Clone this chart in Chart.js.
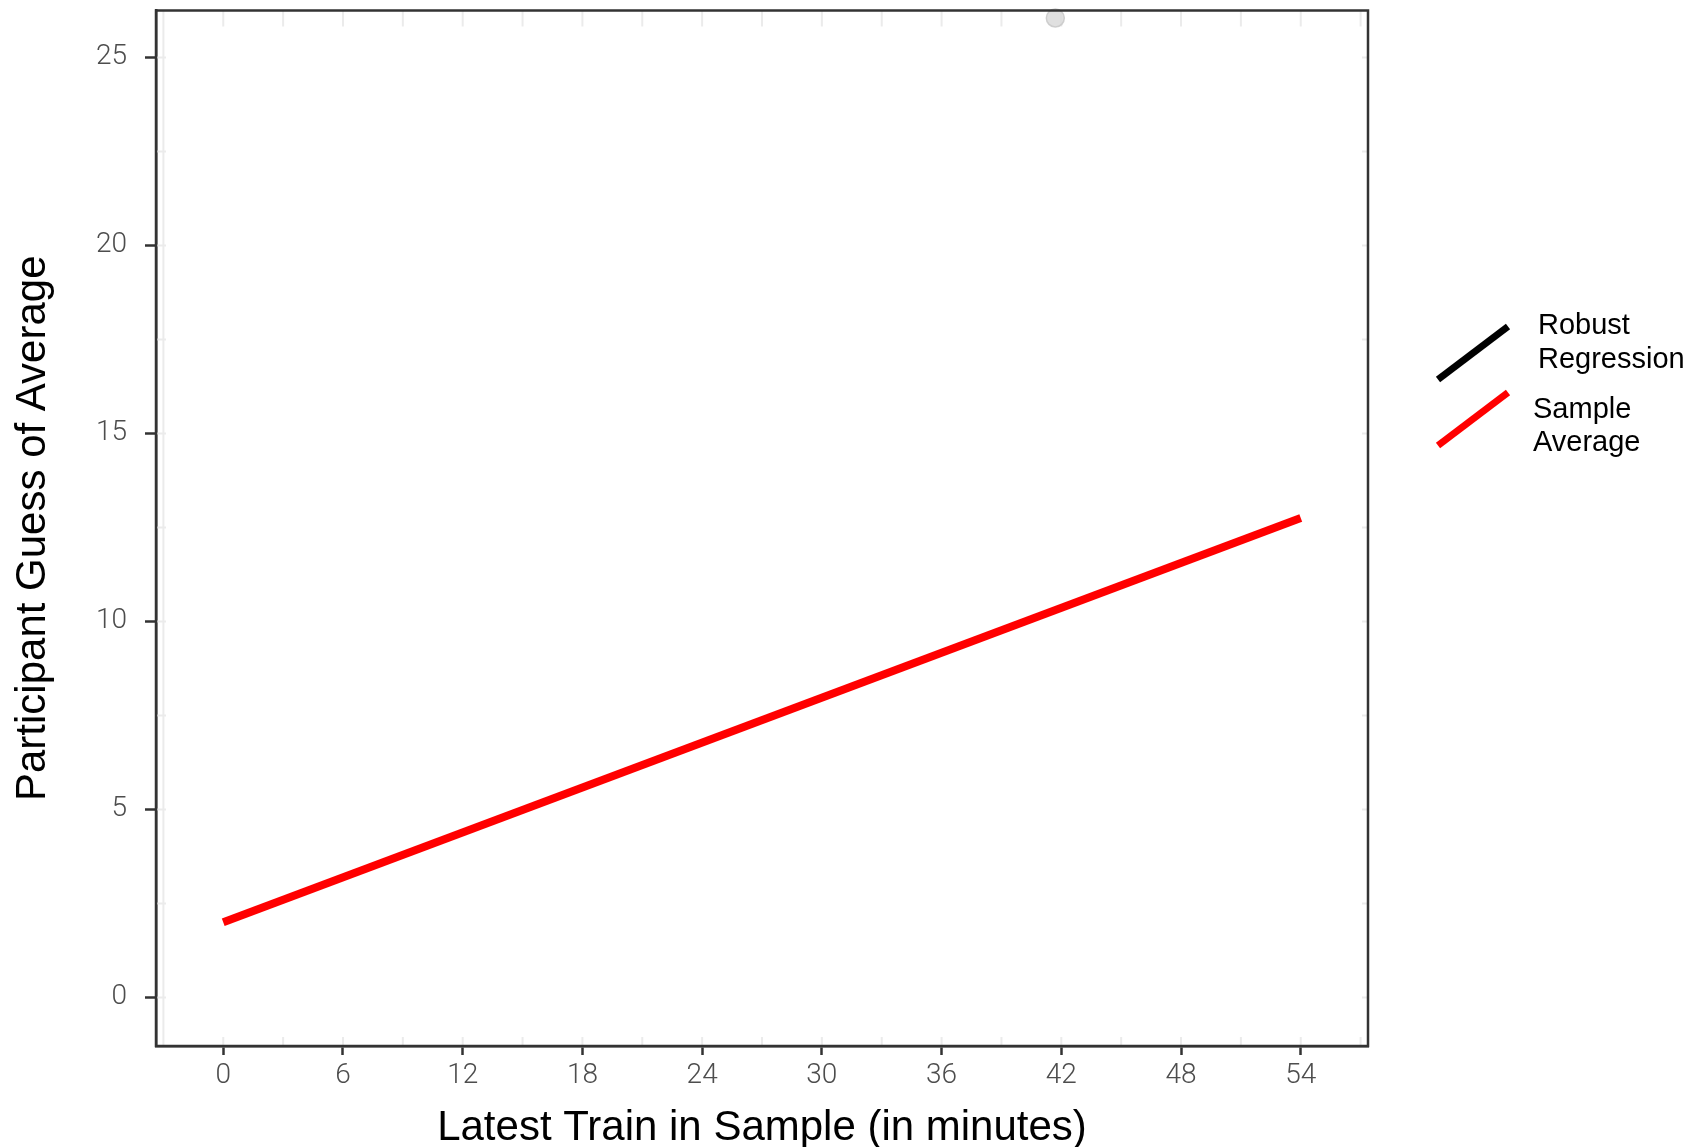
<!DOCTYPE html>
<html>
<head>
<meta charset="utf-8">
<script src="https://cdn.jsdelivr.net/npm/chart.js@4.4.0/dist/chart.umd.min.js"></script>
<style>
  html, body { margin: 0; padding: 0; background: #fff; }
  #wrap { width: 1702px; height: 1147px; }
</style>
</head>
<body>
<div id="wrap"><canvas id="chart" width="1702" height="1147"></canvas></div>
<script>
// data
const sampleX = [0, 54];
const sampleY = [2.0, 12.75];
const robustX = [];
const robustY = [];
const outlierX = [41.7];
const outlierY = [26.05];

const xTicks = [0, 6, 12, 18, 24, 30, 36, 42, 48, 54];
const yTicks = [0, 5, 10, 15, 20, 25];
const xBreaks = [-3, 0, 3, 6, 9, 12, 15, 18, 21, 24, 27, 30, 33, 36, 39, 42, 45, 48, 51, 54, 57];
const yBreaks = [0, 2.5, 5, 7.5, 10, 12.5, 15, 17.5, 20, 22.5, 25];

const legendLines = [["Robust", "Regression"], ["Sample", "Average"]];

const toPoints = (xs, ys) => xs.map((x, i) => ({ x: x, y: ys[i] }));

const FONT = "'Liberation Sans', Arial, sans-serif";
const TICKFONT = "Roboto, 'Liberation Sans', sans-serif";

// light grey grid stubs along the panel edges, like the original
const gridStubs = {
    id: "gridStubs",
    beforeDatasetsDraw(chart) {
        const { ctx, chartArea: a, scales: { x, y } } = chart;
        ctx.save();
        ctx.strokeStyle = "#ebebeb";
        ctx.lineWidth = 2;
        xBreaks.forEach((v, i) => {
            const px = x.getPixelForValue(v);
            ctx.beginPath();
            if (i === 0) {
                ctx.moveTo(px, a.top);
                ctx.lineTo(px, a.bottom);
            } else {
                ctx.moveTo(px, a.top);
                ctx.lineTo(px, a.top + 16);
                ctx.moveTo(px, a.bottom);
                ctx.lineTo(px, a.bottom - 9);
            }
            ctx.stroke();
        });
        yBreaks.forEach(v => {
            const py = y.getPixelForValue(v);
            ctx.beginPath();
            ctx.moveTo(a.left, py);
            ctx.lineTo(a.left + 10, py);
            ctx.moveTo(a.right, py);
            ctx.lineTo(a.right - 6, py);
            ctx.stroke();
        });
        ctx.restore();
    },
    afterDraw(chart) {
        const { ctx, chartArea: a } = chart;
        ctx.save();
        // panel border
        ctx.strokeStyle = "#333333";
        ctx.lineWidth = 2.5;
        ctx.strokeRect(a.left, a.top, a.right - a.left, a.bottom - a.top);

        // legend with slanted keys
        const keys = [chart.data.datasets[0], chart.data.datasets[1]];
        const keyY = [353, 419];
        const textX = [1538, 1533];
        const baseY = [[334, 368], [418, 451]];
        keys.forEach((ds, i) => {
            ctx.strokeStyle = ds.borderColor;
            ctx.lineWidth = 7;
            ctx.lineCap = "butt";
            ctx.beginPath();
            ctx.moveTo(1438, keyY[i] + 26.5);
            ctx.lineTo(1508, keyY[i] - 26.5);
            ctx.stroke();
            ctx.fillStyle = "#000";
            ctx.font = "400 29px " + FONT;
            ctx.textBaseline = "alphabetic";
            ctx.textAlign = "left";
            legendLines[i].forEach((t, j) => ctx.fillText(t, textX[i], baseY[i][j]));
        });
        ctx.restore();
    }
};

const chart = new Chart(document.getElementById("chart"), {
    type: "line",
    data: {
        datasets: [
            {
                label: "Robust Regression",
                data: toPoints(robustX, robustY),
                borderColor: "#000000",
                borderWidth: 8,
                pointRadius: 0
            },
            {
                label: "Sample Average",
                data: toPoints(sampleX, sampleY),
                borderColor: "#ff0000",
                borderWidth: 8,
                borderCapStyle: "butt",
                pointRadius: 0
            },
            {
                type: "scatter",
                label: "outlier",
                data: toPoints(outlierX, outlierY),
                pointRadius: 9,
                backgroundColor: "rgba(218,218,218,0.85)",
                borderColor: "rgba(200,200,200,0.85)",
                borderWidth: 1.5,
                clip: false
            }
        ]
    },
    options: {
        responsive: false,
        animation: false,
        devicePixelRatio: 1,
        layout: { padding: { top: 4, right: 334, left: 0, bottom: 0 } },
        plugins: { legend: { display: false }, tooltip: { enabled: false } },
        scales: {
            x: {
                type: "linear",
                min: -3.37,
                max: 57.37,
                afterBuildTicks: s => { s.ticks = xTicks.map(v => ({ value: v })); },
                afterFit: s => { s.height = 101; s.paddingLeft = 0; s.paddingRight = 0; },
                grid: { drawOnChartArea: false, drawTicks: true, tickLength: 9, tickColor: "#333333", tickWidth: 2.5 },
                border: { display: true, color: "#333333", width: 2.5 },
                ticks: { color: "#4d4d4d", padding: 4, maxRotation: 0, font: { family: TICKFONT, size: 28, weight: 300 } },
                title: {
                    display: true,
                    text: "Latest Train in Sample (in minutes)",
                    color: "#000",
                    font: { family: FONT, size: 42, weight: 400 },
                    padding: { top: 0, bottom: -7 }
                }
            },
            y: {
                type: "linear",
                min: -1.29,
                max: 26.25,
                afterBuildTicks: s => { s.ticks = yTicks.map(v => ({ value: v })); },
                afterFit: s => { s.width = 156; s.paddingTop = 0; s.paddingBottom = 0; },
                grid: { drawOnChartArea: false, drawTicks: true, tickLength: 11, tickColor: "#333333", tickWidth: 2.5 },
                border: { display: true, color: "#333333", width: 2.5 },
                ticks: { color: "#4d4d4d", padding: 18, font: { family: TICKFONT, size: 28, weight: 300 } },
                title: {
                    display: true,
                    text: "Participant Guess of Average",
                    color: "#000",
                    font: { family: FONT, size: 42, weight: 400 },
                    padding: { top: 8, bottom: 0 }
                }
            }
        }
    },
    plugins: [gridStubs]
});
</script>
</body>
</html>
